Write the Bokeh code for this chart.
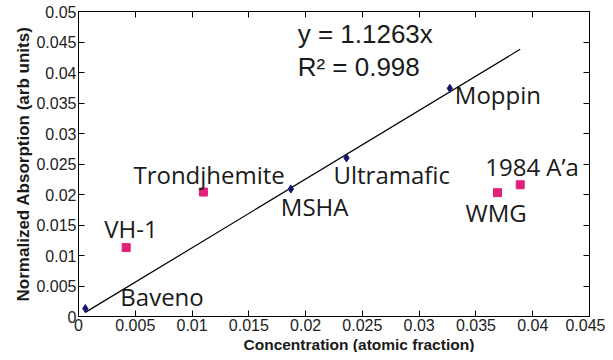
from bokeh.plotting import figure
from bokeh.models import (LinearAxis, FixedTicker, Range1d, Label, ColumnDataSource, Title)
from bokeh.core.properties import value
from bokeh.embed import file_html
from bokeh.resources import INLINE

# ---- data ----
fit_names = ["Baveno", "MSHA", "Ultramafic", "Moppin"]
fit_x = [0.0006, 0.0187, 0.0236, 0.0327]
fit_y = [0.0013, 0.0209, 0.0260, 0.0374]

other_names = ["VH-1", "Trondjhemite", "WMG", "1984 A\u2019a"]
other_x = [0.0042, 0.0110, 0.0369, 0.0389]
other_y = [0.0113, 0.0204, 0.0203, 0.0216]

slope = 1.1263
r2 = 0.998
fit_line_x = [0.0006, 0.0389]

x_ticks = [0, 0.005, 0.01, 0.015, 0.02, 0.025, 0.03, 0.035, 0.04, 0.045]
y_ticks = [0, 0.005, 0.01, 0.015, 0.02, 0.025, 0.03, 0.035, 0.04, 0.045, 0.05]

x_title = "Concentration (atomic fraction)"
y_title = "Normalized Absorption (arb units)"

# label pixel offsets (layout)
fit_dx = [35, -10, -13, 5]
fit_dy = [-12, 17, 17, 6]
other_dx = [-22, -70, -32, -35]
other_dy = [-19, -18, 20, -18]

TICK_FONT = "Liberation Sans"
LBL_FONT = "Open Sans"

p = figure(width=605, height=352, output_backend="svg", toolbar_location=None,
           x_range=Range1d(0, 0.045), y_range=Range1d(0, 0.05),
           min_border_left=78, min_border_right=16, min_border_top=11,
           min_border_bottom=36, background_fill_color="white",
           border_fill_color="white", outline_line_color="black",
           outline_line_width=1)
p.grid.visible = False

for ax, ticks in ((p.xaxis[0], x_ticks), (p.yaxis[0], y_ticks)):
    ax.ticker = FixedTicker(ticks=ticks)
    ax.major_tick_in = 6
    ax.major_tick_out = 0
    ax.minor_tick_in = 0
    ax.minor_tick_out = 0
    ax.major_label_text_font = TICK_FONT
    ax.major_label_text_font_size = "16px"
    ax.major_label_text_color = "#222222"
    ax.axis_line_color = "black"
    ax.major_tick_line_color = "black"
    ax.major_label_overrides = {t: ("0" if t == 0 else f"{t:g}") for t in ticks}
p.xaxis[0].major_label_standoff = 2
p.yaxis[0].major_label_standoff = 2

p.yaxis[0].axis_label = y_title
p.yaxis[0].axis_label_standoff = 0
p.yaxis[0].axis_label_text_font = TICK_FONT
p.yaxis[0].axis_label_text_font_size = "17px"
p.yaxis[0].axis_label_text_font_style = "bold"
p.yaxis[0].axis_label_text_color = "#1a1a1a"

top = LinearAxis(ticker=FixedTicker(ticks=x_ticks), major_tick_in=6, major_tick_out=0,
                 minor_tick_in=0, minor_tick_out=0, major_label_text_font_size="0px",
                 major_label_standoff=0, axis_line_color="black")
right = LinearAxis(ticker=FixedTicker(ticks=y_ticks), major_tick_in=6, major_tick_out=0,
                   minor_tick_in=0, minor_tick_out=0, major_label_text_font_size="0px",
                   major_label_standoff=0, axis_line_color="black")
p.add_layout(top, "above")
p.add_layout(right, "right")

p.add_layout(Title(text=x_title, align="left", offset=165, text_font=TICK_FONT,
                   text_font_size="15.5px", text_font_style="bold", text_color="#1a1a1a",
                   standoff=0), "below")

# fit line
p.line(fit_line_x, [slope * v for v in fit_line_x], line_color="black", line_width=1.2)

fit_src = ColumnDataSource(dict(x=fit_x, y=fit_y, name=fit_names, dx=fit_dx, dy=fit_dy))
oth_src = ColumnDataSource(dict(x=other_x, y=other_y, name=other_names, dx=other_dx, dy=other_dy))

p.scatter("x", "y", source=fit_src, marker="diamond", size=8,
          fill_color="#141470", line_color="#141470")
p.scatter("x", "y", source=oth_src, marker="square", size=8,
          fill_color="#e0207a", line_color="#e0207a")

for src in (fit_src, oth_src):
    p.text("x", "y", text="name", source=src, x_offset="dx", y_offset="dy",
           text_font=value(LBL_FONT), text_font_size="24px", text_color="#1a1a1a",
           text_align="left", text_baseline="alphabetic")

p.add_layout(Label(x=0.0193, y=0.0439, text=f"y = {slope}x",
                   text_font=TICK_FONT, text_font_size="26px", text_color="#1a1a1a"))
p.add_layout(Label(x=0.0193, y=0.0384, text=f"R\u00b2 = {r2}",
                   text_font=TICK_FONT, text_font_size="26px", text_color="#1a1a1a"))

open("out.html", "w").write(file_html(p, INLINE))
